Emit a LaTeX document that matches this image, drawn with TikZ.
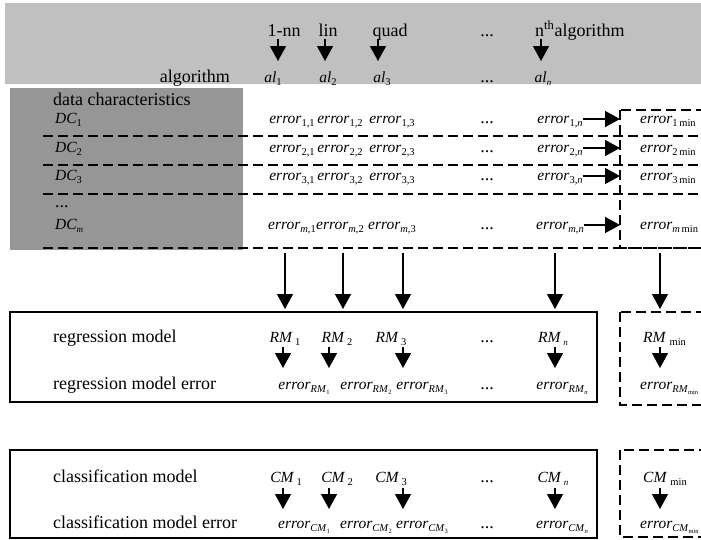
\documentclass[tikz,border=0pt]{standalone}
\usepackage{fontspec}
\setmainfont{Liberation Serif}
\usetikzlibrary{arrows.meta}
\definecolor{topgray}{RGB}{192,192,192}
\definecolor{dcgray}{RGB}{150,150,150}
\newcommand\sbs[1]{\raisebox{-3.5pt}{\fontsize{10.5}{11}\selectfont\upshape #1}}
\newcommand\ssbs[1]{\raisebox{-2pt}{\fontsize{6.5}{7}\selectfont\upshape #1}}
\newcommand\msub[1]{\raisebox{-3.5pt}{\fontsize{9}{10}\selectfont\itshape #1}}
\begin{document}
\begin{tikzpicture}[x=1pt,y=-1pt,
  rm/.style={font=\fontsize{18}{20}\selectfont, inner sep=0pt},
  mi/.style={font=\fontsize{15.5}{17}\selectfont\itshape, inner sep=0pt},
  arr/.style={-{Triangle[length=15pt,width=16pt]}, line width=1.4pt},
  dashline/.style={dash pattern=on 10pt off 5pt, line width=2.4pt},
  solidbox/.style={line width=2pt},
  dashbox/.style={dash pattern=on 10pt off 5pt, line width=2pt}]
\useasboundingbox (0,0) rectangle (701,539);
\clip (0,0) rectangle (701,539);
\fill[topgray] (5,3) rectangle (701,84);
\fill[dcgray] (10,88) rectangle (243,250);

% top labels
\node[rm, anchor=base] (t1) at (284,36) {1-nn};
\node[rm, anchor=base] (t2) at (328,36) {lin};
\node[rm, anchor=base] (t3) at (390,36) {quad};
\node[rm, anchor=base] (t4) at (487,36) {...};
\node[rm, anchor=base west] (tn) at (535,36) {n\textsuperscript{th}algorithm};

\node[rm, anchor=base east] (alg) at (230,82) {algorithm};
\node[mi, anchor=base] (a1) at (273,82) {al\sbs{1}};
\node[mi, anchor=base] (a2) at (328,82) {al\sbs{2}};
\node[mi, anchor=base] (a3) at (382,82) {al\sbs{3}};
\node[rm, anchor=base] (adots) at (487,82) {...};
\node[mi, anchor=base] (an) at (543,82) {al\msub{n}};

\foreach \i/\x in {1/278,2/325,3/378,n/541}{
  \coordinate (p\i s) at (\x,39);
  \coordinate (p\i e) at (\x,61);
  \draw[arr] (p\i s) -- (p\i e);
}

% data characteristics
\node[rm, anchor=base west] (dch) at (53,105) {data characteristics};
\node[mi, anchor=base west] (dc1) at (55,123) {DC\sbs{1}};
\node[mi, anchor=base west] (dc2) at (55,152) {DC\sbs{2}};
\node[mi, anchor=base west] (dc3) at (55,180) {DC\sbs{3}};
\node[rm, anchor=base west] (dcdots) at (55,207) {...};
\node[mi, anchor=base west] (dcm) at (55,229) {DC\msub{m}};

% error matrix
\foreach \r/\y/\s in {1/123/{1},2/152/{2},3/180/{3}}{
  \node[mi, anchor=base] (e\r a) at (292,\y) {error\sbs{\s,1}};
  \node[mi, anchor=base] (e\r b) at (340,\y) {error\sbs{\s,2}};
  \node[mi, anchor=base] (e\r c) at (392,\y) {error\sbs{\s,3}};
  \node[rm, anchor=base] (e\r d) at (487,\y) {...};
  \node[mi, anchor=base] (e\r n) at (560,\y) {error\sbs{\s,\textit{n}}};
  \node[mi, anchor=base west] (e\r min) at (640,\y) {error\sbs{\s\,min}};
}
\node[mi, anchor=base] (ema) at (292,229) {error\sbs{\textit{m},1}};
\node[mi, anchor=base] (emb) at (340,229) {error\sbs{\textit{m},2}};
\node[mi, anchor=base] (emc) at (392,229) {error\sbs{\textit{m},3}};
\node[rm, anchor=base] (emd) at (487,229) {...};
\node[mi, anchor=base] (emn) at (560,229) {error\sbs{\textit{m},\textit{n}}};
\node[mi, anchor=base west] (emmin) at (640,229) {error\sbs{\textit{m}\,min}};

% dashed row lines and min box
\foreach \y in {136,165,194,248}{
  \draw[dashline] (43,\y) -- (701,\y);
}
\draw[dashbox] (620,110) rectangle (735,248);
\coordinate (mbL) at (620,110);
\foreach \r in {1,2,3,m}{
  \draw[arr] ([yshift=4pt]e\r n.base east) -- ([yshift=4pt]e\r n.base east -| mbL);
}

% vertical arrows to models
\foreach \i/\x in {1/285,2/343,3/403,n/555,min/660}{
  \coordinate (v\i s) at (\x,253);
  \coordinate (v\i e) at (\x,309);
  \draw[arr] (v\i s) -- (v\i e);
}

% regression box
\draw[solidbox] (10,312) rectangle (597,402);
\draw[dashbox] (620,312) rectangle (735,405);
\node[rm, anchor=base west] (rml) at (53,342) {regression model};
\node[rm, anchor=base west] (rmel) at (53,389) {regression model error};
\node[mi, anchor=base] (rm1) at (285,342) {RM\hspace{3pt}\sbs{1}};
\node[mi, anchor=base] (rm2) at (337,342) {RM\hspace{3pt}\sbs{2}};
\node[mi, anchor=base] (rm3) at (391,342) {RM\hspace{3pt}\sbs{3}};
\node[rm, anchor=base] (rmd) at (487,342) {...};
\node[mi, anchor=base] (rmn) at (553,342) {RM\hspace{3pt}\msub{n}};
\node[mi, anchor=base west] (rmmin) at (643,342) {RM\hspace{4pt}\sbs{min}};
\node[mi, anchor=base] (erm1) at (304,389) {error\sbs{\textit{RM}\ssbs{1}}};
\node[mi, anchor=base] (erm2) at (366,389) {error\sbs{\textit{RM}\ssbs{2}}};
\node[mi, anchor=base] (erm3) at (422,389) {error\sbs{\textit{RM}\ssbs{3}}};
\node[rm, anchor=base] (ermd) at (487,389) {...};
\node[mi, anchor=base] (ermn) at (562,389) {error\sbs{\textit{RM}\ssbs{\textit{n}}}};
\node[mi, anchor=base west] (ermmin) at (640,389) {error\sbs{\textit{RM}\ssbs{min}}};
\foreach \i/\x in {1/283,2/329,3/403,n/555,min/660}{
  \coordinate (r\i s) at (\x,347);
  \coordinate (r\i e) at (\x,368);
  \draw[arr] (r\i s) -- (r\i e);
}

% classification box
\draw[solidbox] (10,450) rectangle (597,538);
\draw[dashbox] (620,450) rectangle (735,537);
\node[rm, anchor=base west] (cml) at (53,482) {classification model};
\node[rm, anchor=base west] (cmel) at (53,528) {classification model error};
\node[mi, anchor=base] (cm1) at (286,482) {CM\hspace{3pt}\sbs{1}};
\node[mi, anchor=base] (cm2) at (337,482) {CM\hspace{3pt}\sbs{2}};
\node[mi, anchor=base] (cm3) at (391,482) {CM\hspace{3pt}\sbs{3}};
\node[rm, anchor=base] (cmd) at (487,482) {...};
\node[mi, anchor=base] (cmn) at (553,482) {CM\hspace{3pt}\msub{n}};
\node[mi, anchor=base west] (cmmin) at (643,482) {CM\hspace{4pt}\sbs{min}};
\node[mi, anchor=base] (ecm1) at (304,528) {error\sbs{\textit{CM}\ssbs{1}}};
\node[mi, anchor=base] (ecm2) at (366,528) {error\sbs{\textit{CM}\ssbs{2}}};
\node[mi, anchor=base] (ecm3) at (422,528) {error\sbs{\textit{CM}\ssbs{3}}};
\node[rm, anchor=base] (ecmd) at (487,528) {...};
\node[mi, anchor=base] (ecmn) at (562,528) {error\sbs{\textit{CM}\ssbs{\textit{n}}}};
\node[mi, anchor=base west] (ecmmin) at (640,528) {error\sbs{\textit{CM}\ssbs{min}}};
\foreach \i/\x in {1/283,2/329,3/403,n/555,min/660}{
  \coordinate (c\i s) at (\x,488);
  \coordinate (c\i e) at (\x,509);
  \draw[arr] (c\i s) -- (c\i e);
}
\end{tikzpicture}
\end{document}
